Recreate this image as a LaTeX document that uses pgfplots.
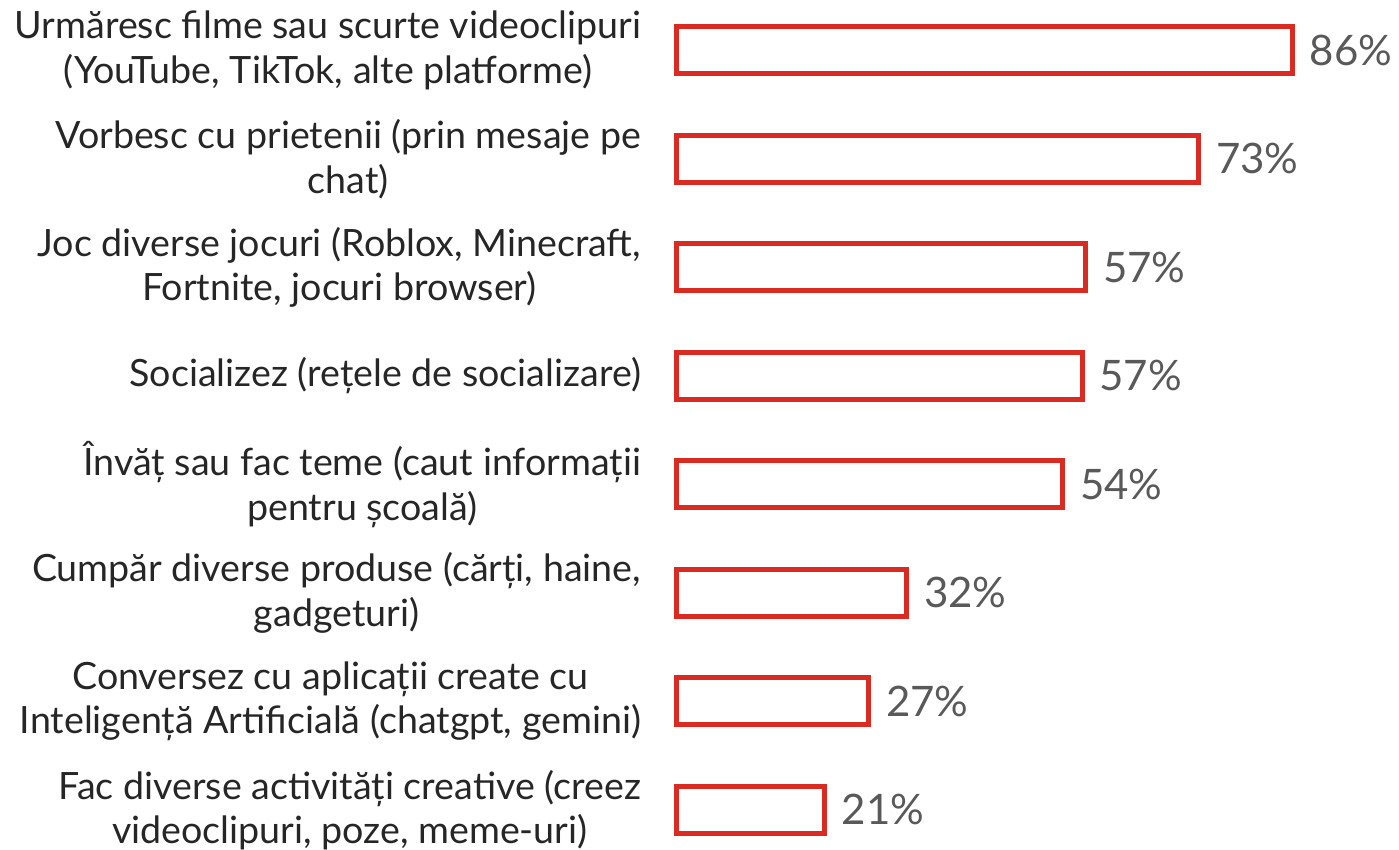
\documentclass[border=0pt]{standalone}
\usepackage{pgfplots}
\pgfplotsset{compat=1.18}
\usepackage{fontspec}
\setmainfont{Lato}

\definecolor{barred}{HTML}{D92B21}
\definecolor{labgray}{HTML}{595959}
\definecolor{catgray}{HTML}{262626}

\begin{document}
\begin{tikzpicture}
\begin{axis}[
    at={(0,0)}, anchor=south west,
    scale only axis,
    width=357.8pt,
    height=434pt,
    xmin=0, xmax=100,
    ymin=0.5, ymax=8.5,
    y dir=reverse,
    xbar,
    bar width=23.5pt,
    axis line style={draw=none},
    tick style={draw=none},
    xtick=\empty,
    ytick={1,...,8},
    yticklabels={
        {Urmăresc filme sau scurte videoclipuri\\(YouTube, TikTok, alte platforme)},
        {Vorbesc cu prietenii (prin mesaje pe\\chat)},
        {Joc diverse jocuri (Roblox, Minecraft,\\Fortnite, jocuri browser)},
        {Socializez (rețele de socializare)},
        {Învăț sau fac teme (caut informații\\pentru școală)},
        {Cumpăr diverse produse (cărți, haine,\\gadgeturi)},
        {Conversez cu aplicații create cu\\Inteligență Artificială (chatgpt, gemini)},
        {Fac diverse activități creative (creez\\videoclipuri, poze, meme-uri)}
    },
    yticklabel style={align=center, anchor=east, inner sep=0pt, xshift=-13.5pt,
        font=\fontsize{18.8}{22.3}\selectfont, text=catgray},
    point meta=explicit symbolic,
    nodes near coords,
    nodes near coords style={anchor=west, inner sep=0pt, xshift=7.5pt,
        font=\fontsize{21}{24}\selectfont, text=labgray},
    clip=false,
]
\addplot[draw=barred, line width=2.5pt, fill=white] coordinates {
    (86,1) [86\%]
    (72.9,2) [73\%]
    (57.1,3) [57\%]
    (56.6,4) [57\%]
    (53.9,5) [54\%]
    (32.1,6) [32\%]
    (26.8,7) [27\%]
    (20.6,8) [21\%]
};
\end{axis}
\pgfresetboundingbox
\path (-338.5pt,7.1pt) rectangle (361pt,432.1pt);
\end{tikzpicture}
\end{document}
